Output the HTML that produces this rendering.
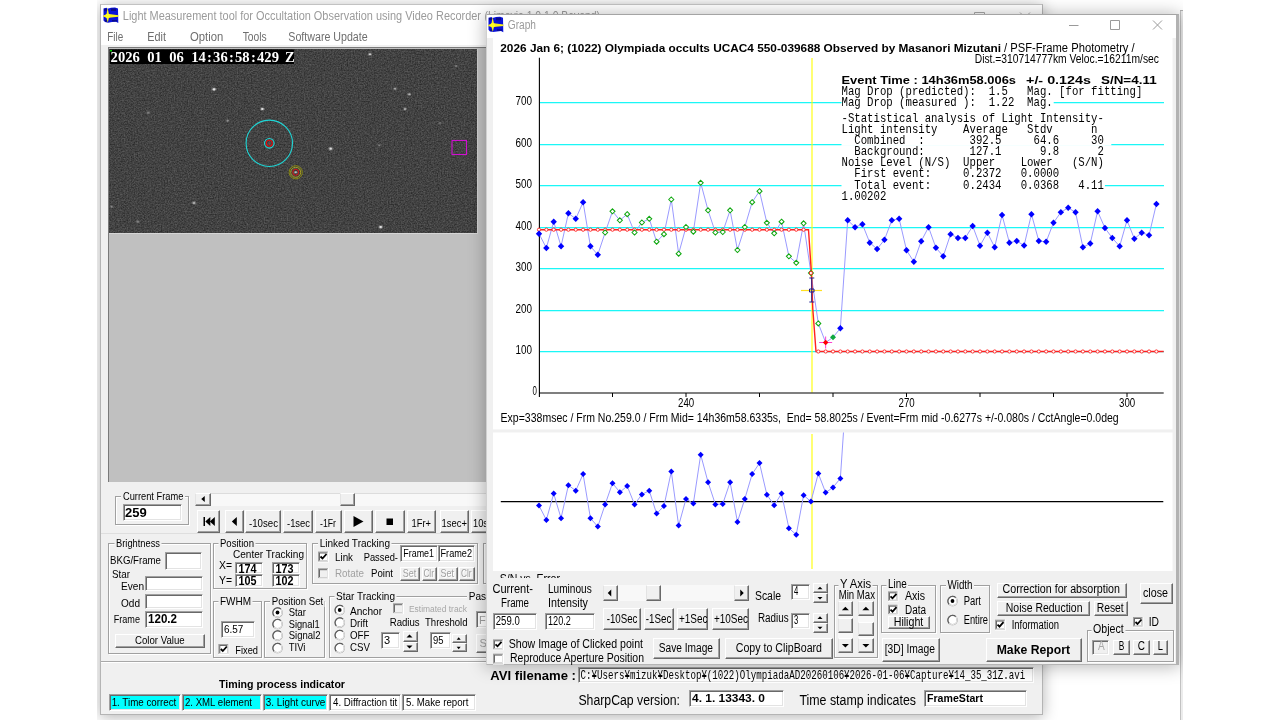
<!DOCTYPE html>
<html lang="en"><head><meta charset="utf-8"><title>Limovie - Light Measurement tool</title>
<style>
html,body{margin:0;padding:0;}
body{width:1280px;height:720px;background:#fff;overflow:hidden;position:relative;font-family:"Liberation Sans",sans-serif;}
div{position:absolute;box-sizing:border-box;}
svg.ov{position:absolute;left:0;top:0;pointer-events:none;overflow:hidden;will-change:transform;}
svg text{font-family:"Liberation Sans",sans-serif;white-space:pre;}
svg text.m{font-family:"Liberation Mono",monospace;}
svg text.se{font-family:"Liberation Serif",serif;}
svg text.g{font-family:"Liberation Sans",sans-serif;}
.win{background:#f0f0f0;border:1px solid #b4b4b4;border-top-color:#c2c2c2;box-shadow:0 2px 14px rgba(0,0,0,.30);}
.gw{border-color:#a4a4a4 #b2b2b2 #b4b4b4 #d0d0d0;border-right-width:3px;box-shadow:0 1px 16px 1px rgba(0,0,0,.28);}
.panel{background:#c0c0c0;border-left:1px solid #7a7a7a;border-top:1px solid #7a7a7a;}
.gb{border:1px solid #a0a0a0;box-shadow:1px 1px 0 #fff,inset 1px 1px 0 #fff;}
.tb{background:#fff;border:1px solid;border-color:#a0a0a0 #fff #fff #a0a0a0;box-shadow:inset 1px 1px 0 #696969,inset -1px -1px 0 #e3e3e3;}
.btn{background:#f0f0f0;border:1px solid;border-color:#fff #696969 #696969 #fff;box-shadow:inset -1px -1px 0 #a0a0a0;}
.btn1{background:#f0f0f0;border:1px solid;border-color:#fff #696969 #696969 #e3e3e3;box-shadow:inset -1px -1px 0 #a0a0a0;}
.sbt{background:#f8f8f8;}
</style></head>
<body>
<div style="left:97px;top:0;width:1086px;height:720px;overflow:hidden;background:#fff"><div style="left:-97px;top:0;width:1280px;height:720px">
<div class="" style="left:1180px;top:10px;width:3px;height:710px;background:#ececec"></div>
<div class="" style="left:1180px;top:10px;width:1px;height:710px;background:#c2c2c2"></div>
<div class="" style="left:1180px;top:10px;width:3px;height:1px;background:#b0b0b0"></div>
<!-- main window -->
<div class="win" style="left:100px;top:4px;width:943px;height:711px;"></div>
<div class="" style="left:101px;top:5px;width:941px;height:40px;background:#fff"></div>
<div class="panel" style="left:108px;top:47px;width:378px;height:435px;"></div>
<div class="" style="left:101px;top:533px;width:941px;height:1px;background:#dedede"></div>
<div class="" style="left:101px;top:661px;width:941px;height:1px;background:#a8a8a8"></div>
<div class="" style="left:101px;top:662px;width:941px;height:1px;background:#fff"></div>
<div class="gb" style="left:115.3px;top:495.5px;width:73.4px;height:29.5px;"></div>
<div class="tb" style="left:122.5px;top:504px;width:59.2px;height:17px;"></div>
<div class="sbt" style="left:195px;top:492.5px;width:325px;height:13px;border-top:1px solid #dcdcdc"></div>
<div class="btn1" style="left:195px;top:492.5px;width:16px;height:13px;"></div>
<div class="btn1" style="left:340px;top:492.5px;width:14.7px;height:13px;"></div>
<div class="btn" style="left:197px;top:510px;width:23px;height:23px;"></div>
<div class="btn" style="left:224.7px;top:510px;width:19.6px;height:23px;"></div>
<div class="btn" style="left:244.8px;top:510px;width:36.5px;height:23px;"></div>
<div class="btn" style="left:283px;top:510px;width:29.5px;height:23px;"></div>
<div class="btn" style="left:315px;top:510px;width:27px;height:23px;"></div>
<div class="btn" style="left:344px;top:510px;width:29px;height:23px;"></div>
<div class="btn" style="left:375px;top:510px;width:29.7px;height:23px;"></div>
<div class="btn" style="left:406.7px;top:510px;width:29.3px;height:23px;"></div>
<div class="btn" style="left:439.7px;top:510px;width:29px;height:23px;"></div>
<div class="btn" style="left:471px;top:510px;width:34px;height:23px;"></div>
<div class="gb" style="left:108px;top:542.5px;width:102.7px;height:111.5px;"></div>
<div class="tb" style="left:165px;top:552px;width:36.7px;height:17.7px;"></div>
<div class="tb" style="left:145px;top:576px;width:58px;height:14.5px;"></div>
<div class="tb" style="left:145px;top:594px;width:58px;height:14.5px;"></div>
<div class="tb" style="left:145px;top:611px;width:58px;height:16.5px;"></div>
<div class="btn" style="left:115px;top:633.5px;width:89.5px;height:14.5px;"></div>
<div class="gb" style="left:213px;top:542.5px;width:93.7px;height:46.5px;"></div>
<div class="tb" style="left:235px;top:561.7px;width:28px;height:12.6px;"></div>
<div class="tb" style="left:235px;top:574.3px;width:28px;height:12.7px;"></div>
<div class="tb" style="left:272px;top:561.7px;width:28px;height:12.6px;"></div>
<div class="tb" style="left:272px;top:574.3px;width:28px;height:12.7px;"></div>
<div class="gb" style="left:213px;top:601px;width:48.7px;height:56.5px;"></div>
<div class="tb" style="left:221px;top:621px;width:33.5px;height:17px;"></div>
<div class="gb" style="left:264px;top:601px;width:61px;height:56.5px;"></div>
<div class="gb" style="left:312px;top:542.5px;width:166px;height:41.5px;"></div>
<div class="tb" style="left:400px;top:545px;width:37.5px;height:17px;"></div>
<div class="tb" style="left:437.5px;top:545px;width:37px;height:17px;"></div>
<div class="btn" style="left:400px;top:566.7px;width:20px;height:14.3px;"></div>
<div class="btn" style="left:421.7px;top:566.7px;width:15px;height:14.3px;"></div>
<div class="btn" style="left:438px;top:566.7px;width:19.5px;height:14.3px;"></div>
<div class="btn" style="left:459px;top:566.7px;width:15.7px;height:14.3px;"></div>
<div class="gb" style="left:483px;top:542.5px;width:117px;height:41.5px;"></div>
<div class="gb" style="left:328.7px;top:596px;width:311.3px;height:61.5px;"></div>
<div class="tb" style="left:381px;top:632px;width:19px;height:16.7px;"></div>
<div class="btn" style="left:402.5px;top:631px;width:15px;height:10.7px;"></div>
<div class="btn" style="left:402.5px;top:641.7px;width:15px;height:10.8px;"></div>
<div class="tb" style="left:429.7px;top:632px;width:21.3px;height:16.7px;"></div>
<div class="btn" style="left:451.7px;top:634px;width:15px;height:9.3px;"></div>
<div class="btn" style="left:451.7px;top:643.3px;width:15px;height:9.2px;"></div>
<div class="tb" style="left:476px;top:611px;width:44px;height:17px;"></div>
<div class="btn" style="left:476px;top:634px;width:24px;height:18.5px;"></div>
<div class="tb" style="left:108.7px;top:694px;width:72.6px;height:17px;background:#00ffff"></div>
<div class="tb" style="left:182px;top:694px;width:80px;height:17px;background:#00ffff"></div>
<div class="tb" style="left:263.3px;top:694px;width:65px;height:17px;background:#00ffff"></div>
<div class="tb" style="left:329.3px;top:694px;width:71.7px;height:17px;"></div>
<div class="tb" style="left:402.3px;top:694px;width:73.3px;height:17px;"></div>
<div class="tb" style="left:578.4px;top:666.5px;width:455.4px;height:16.9px;"></div>
<div class="tb" style="left:688.7px;top:690px;width:95.1px;height:17.3px;"></div>
<div class="tb" style="left:923.7px;top:690px;width:103.3px;height:17.3px;"></div>
<svg class="ov" width="1280" height="720" viewBox="0 0 1280 720">
<defs><filter id="nz" x="0" y="0" width="100%" height="100%" color-interpolation-filters="sRGB"><feTurbulence type="fractalNoise" baseFrequency="0.7" numOctaves="2" seed="11" result="t0"/><feGaussianBlur in="t0" stdDeviation="0.55" result="t"/><feColorMatrix in="t" type="matrix" values="0.28 0 0 0 0.12  0.28 0 0 0 0.12  0.28 0 0 0 0.12  0 0 0 0 1"/></filter><radialGradient id="st"><stop offset="0" stop-color="#fff" stop-opacity="1"/><stop offset="0.3" stop-color="#fff" stop-opacity="0.75"/><stop offset="0.6" stop-color="#fff" stop-opacity="0.22"/><stop offset="1" stop-color="#fff" stop-opacity="0"/></radialGradient><clipPath id="vc"><rect x="109" y="49" width="368" height="184"/></clipPath></defs>
<rect x="109" y="49" width="368" height="184" fill="#404040" />
<rect x="109" y="49" width="368" height="184" filter="url(#nz)"/>
<g clip-path="url(#vc)">
<ellipse cx="214" cy="89.3" rx="3.22" ry="2.58" fill="url(#st)" opacity="1"/>
<ellipse cx="262.3" cy="109" rx="2.88" ry="2.3" fill="url(#st)" opacity="1"/>
<ellipse cx="148.3" cy="112.7" rx="2.99" ry="2.39" fill="url(#st)" opacity="0.35"/>
<ellipse cx="227.7" cy="120.7" rx="2.76" ry="2.21" fill="url(#st)" opacity="0.4"/>
<ellipse cx="370" cy="54.3" rx="2.76" ry="2.21" fill="url(#st)" opacity="0.85"/>
<ellipse cx="456" cy="66" rx="2.53" ry="2.02" fill="url(#st)" opacity="0.35"/>
<ellipse cx="395" cy="88.7" rx="2.76" ry="2.21" fill="url(#st)" opacity="0.6"/>
<ellipse cx="409.3" cy="94.3" rx="2.76" ry="2.21" fill="url(#st)" opacity="0.65"/>
<ellipse cx="405" cy="109" rx="2.76" ry="2.21" fill="url(#st)" opacity="0.65"/>
<ellipse cx="330.7" cy="148.7" rx="3.22" ry="2.58" fill="url(#st)" opacity="0.9"/>
<ellipse cx="379.3" cy="145.3" rx="2.53" ry="2.02" fill="url(#st)" opacity="0.35"/>
<ellipse cx="194" cy="203" rx="2.99" ry="2.39" fill="url(#st)" opacity="0.7"/>
<ellipse cx="137.7" cy="221.7" rx="2.76" ry="2.21" fill="url(#st)" opacity="0.4"/>
<ellipse cx="380.7" cy="227" rx="3.1" ry="2.48" fill="url(#st)" opacity="1"/>
<ellipse cx="111.7" cy="206.7" rx="2.53" ry="2.02" fill="url(#st)" opacity="0.35"/>
<ellipse cx="440" cy="123" rx="2.3" ry="1.84" fill="url(#st)" opacity="0.3"/>
<ellipse cx="269.3" cy="143.3" rx="2.3" ry="1.84" fill="url(#st)" opacity="0.18"/>
<ellipse cx="295.7" cy="172.3" rx="2.53" ry="2.02" fill="url(#st)" opacity="0.75"/>
</g>
<rect x="109" y="233" width="369" height="1" fill="#d6d6d6" />
<rect x="477" y="49" width="1" height="185" fill="#d0d0d0" />
<rect x="110" y="49.5" width="184" height="14.5" fill="#000" />
<rect x="110" y="50" width="2" height="1.5" fill="#00d000" />
<text x="114.26 121.58 128.9 136.22 143.54 150.86 158.18 165.5 172.82 180.14 187.46 194.78 202.1 209.42 216.74 224.06 231.38 238.7 246.02 253.34 260.66 267.98 275.3 282.62 289.94" y="62.4" font-size="14.6" font-weight="bold" fill="#fff" class="se" text-anchor="middle" xml:space="preserve">2026 01 06 14:36:58:429 Z</text>
<circle cx="269.3" cy="143.3" r="23.2" fill="none" stroke="#1fd6d6" stroke-width="1.1"/>
<circle cx="269.3" cy="143.3" r="4.8" fill="none" stroke="#1fd6d6" stroke-width="1.1"/>
<circle cx="269.3" cy="143.3" r="3" fill="none" stroke="#e01010" stroke-width="1.1"/>
<circle cx="295.7" cy="172.3" r="6.6" fill="none" stroke="#8a8a10" stroke-width="1"/>
<circle cx="295.7" cy="172.3" r="5" fill="none" stroke="#a8a020" stroke-width="1"/>
<circle cx="295.7" cy="172.3" r="3" fill="none" stroke="#e01010" stroke-width="1"/>
<rect x="452" y="140.5" width="14.5" height="14" fill="none" stroke="#d010d0" stroke-width="1.1"/>
</svg>
<svg class="ov " width="1280" height="720" viewBox="0 0 1280 720">
<g transform="translate(103 7.5)"><path d="M0.5 1 L3.5 0.3 L4.5 1.2 L8 0.3 L12 0 L15 1 L15.3 15.5 L13 14.2 L9 14.6 L5 15.2 L2 14.6 L0.5 13 Z" fill="#0a12d8"/><path d="M1 1.2 h3 v2 h-3z M8 1 h5 v2.4 h-5z M2 12.6 h3 v1.6 h-3z M9 12.4 h5 v1.6 h-5z" fill="#0a0a8a"/><path d="M4.6 0.2 L5.9 6.5 L15.4 7.8 L15.4 9.3 L5.9 10.3 L4.8 15.3 L3.5 10.3 L0.2 9.1 L0.2 8.1 L3.5 6.7 Z" fill="#f8f11a"/><circle cx="4.7" cy="8.5" r="2.3" fill="#ffff22"/></g>
<text x="122.8" y="19.6" font-size="12" fill="#9b9b9b" textLength="358.2" lengthAdjust="spacingAndGlyphs">Light Measurement tool for Occultation Observation using Video Recorder</text>
<text x="484.5" y="19.6" font-size="12" fill="#9b9b9b" textLength="115.5" lengthAdjust="spacingAndGlyphs">(Limovie 1.0.1.0 Beyond)</text>
<path d="M928 17.5 h10 M974.5 12.5 h10 v10 h-10z M1020 12.5 l10 10 m0 -10 l-10 10" fill="none" stroke="#a8a8a8" stroke-width="1"/>
<text x="107.3" y="40.9" font-size="12" fill="#6e6e6e" textLength="16" lengthAdjust="spacingAndGlyphs">File</text>
<text x="147.3" y="40.9" font-size="12" fill="#6e6e6e" textLength="18.7" lengthAdjust="spacingAndGlyphs">Edit</text>
<text x="190" y="40.9" font-size="12" fill="#6e6e6e" textLength="33.3" lengthAdjust="spacingAndGlyphs">Option</text>
<text x="242.7" y="40.9" font-size="12" fill="#6e6e6e" textLength="24" lengthAdjust="spacingAndGlyphs">Tools</text>
<text x="288.3" y="40.9" font-size="12" fill="#6e6e6e" textLength="79.4" lengthAdjust="spacingAndGlyphs">Software Update</text>
<rect x="121" y="490" width="64" height="11" fill="#f0f0f0" />
<text x="123" y="499.7" font-size="11" textLength="60.3" lengthAdjust="spacingAndGlyphs">Current Frame</text>
<text x="125" y="516.7" font-size="13" font-weight="bold" textLength="21.7" lengthAdjust="spacingAndGlyphs">259</text>
<polygon points="201.25,499 204.75,496 204.75,502" fill="#000"/>
<rect x="203.5" y="517" width="1.5" height="9" fill="#000" />
<polygon points="205.3,521.5 210.3,517 210.3,526" fill="#000"/>
<polygon points="209.8,521.5 214.8,517 214.8,526" fill="#000"/>
<polygon points="231.8,521.5 236.8,517 236.8,526" fill="#000"/>
<text x="249" y="526.5" font-size="11" textLength="29" lengthAdjust="spacingAndGlyphs">-10sec</text>
<text x="287" y="526.5" font-size="11" textLength="23" lengthAdjust="spacingAndGlyphs">-1sec</text>
<text x="320" y="526.5" font-size="11" textLength="16" lengthAdjust="spacingAndGlyphs">-1Fr</text>
<polygon points="363.5,521.5 353.5,516 353.5,527" fill="#000"/>
<rect x="386.5" y="518.5" width="6.5" height="6.5" fill="#000" />
<text x="411.5" y="526.5" font-size="11" textLength="19.5" lengthAdjust="spacingAndGlyphs">1Fr+</text>
<text x="441.5" y="526.5" font-size="11" textLength="25.5" lengthAdjust="spacingAndGlyphs">1sec+</text>
<text x="473" y="526.5" font-size="11" textLength="30" lengthAdjust="spacingAndGlyphs">10sec+</text>
<rect x="114.5" y="538" width="47" height="10" fill="#f0f0f0" />
<text x="116" y="546.7" font-size="11" textLength="44" lengthAdjust="spacingAndGlyphs">Brightness</text>
<text x="110" y="564.2" font-size="11" textLength="51" lengthAdjust="spacingAndGlyphs">BKG/Frame</text>
<text x="112" y="578.3" font-size="11" textLength="18" lengthAdjust="spacingAndGlyphs">Star</text>
<text x="121" y="589.7" font-size="11" textLength="23" lengthAdjust="spacingAndGlyphs">Even</text>
<text x="121" y="606.7" font-size="11" textLength="19" lengthAdjust="spacingAndGlyphs">Odd</text>
<text x="113.7" y="623.3" font-size="11" textLength="26.3" lengthAdjust="spacingAndGlyphs">Frame</text>
<text x="148" y="623.3" font-size="12" font-weight="bold" textLength="29" lengthAdjust="spacingAndGlyphs">120.2</text>
<text x="135" y="643.8" font-size="11" textLength="49.7" lengthAdjust="spacingAndGlyphs">Color Value</text>
<rect x="218.5" y="538" width="37" height="10" fill="#f0f0f0" />
<text x="220" y="546.7" font-size="11" textLength="34" lengthAdjust="spacingAndGlyphs">Position</text>
<text x="233" y="558.3" font-size="11" textLength="71" lengthAdjust="spacingAndGlyphs">Center Tracking</text>
<text x="219" y="568.7" font-size="11" textLength="13" lengthAdjust="spacingAndGlyphs">X=</text>
<text x="219" y="583.7" font-size="11" textLength="13" lengthAdjust="spacingAndGlyphs">Y=</text>
<text x="238.5" y="572.6" font-size="12" font-weight="bold" textLength="18" lengthAdjust="spacingAndGlyphs">174</text>
<text x="238.5" y="585.3" font-size="12" font-weight="bold" textLength="18" lengthAdjust="spacingAndGlyphs">105</text>
<text x="275.5" y="572.6" font-size="12" font-weight="bold" textLength="18" lengthAdjust="spacingAndGlyphs">173</text>
<text x="275.5" y="585.3" font-size="12" font-weight="bold" textLength="18" lengthAdjust="spacingAndGlyphs">102</text>
<rect x="218.5" y="596" width="34" height="11" fill="#f0f0f0" />
<text x="220" y="605.3" font-size="11" textLength="31" lengthAdjust="spacingAndGlyphs">FWHM</text>
<text x="224" y="633.3" font-size="11" textLength="19.3" lengthAdjust="spacingAndGlyphs">6.57</text>
<rect x="218.3" y="644" width="11" height="11" fill="#ffffff" />
<rect x="218.3" y="644" width="10" height="10" fill="#a0a0a0" />
<rect x="219.3" y="645" width="9" height="9" fill="#e3e3e3" />
<rect x="219.3" y="645" width="8" height="8" fill="#696969" />
<rect x="220.3" y="646" width="7" height="7" fill="#ffffff" />
<path d="M220.8 649 l2 2 l4 -4.5" fill="none" stroke="#000" stroke-width="1.8"/>
<text x="235.3" y="653.7" font-size="11" textLength="22.7" lengthAdjust="spacingAndGlyphs">Fixed</text>
<rect x="270" y="596" width="54.5" height="11" fill="#f0f0f0" />
<text x="271.7" y="605.3" font-size="11" textLength="51.6" lengthAdjust="spacingAndGlyphs">Position Set</text>
<circle cx="277.5" cy="612.5" r="4.7" fill="#fff" stroke="#8a8a8a" stroke-width="1.2"/>
<path d="M274.18 615.82 A4.7 4.7 0 0 1 280.82 609.18" fill="none" stroke="#5a5a5a" stroke-width="1.2"/>
<path d="M280.82 609.18 A4.7 4.7 0 0 1 274.18 615.82" fill="none" stroke="#e8e8e8" stroke-width="1.2"/>
<circle cx="277.5" cy="612.5" r="1.9" fill="#000"/>
<text x="288.7" y="615.8" font-size="11" textLength="17.3" lengthAdjust="spacingAndGlyphs">Star</text>
<circle cx="277.5" cy="624" r="4.7" fill="#fff" stroke="#8a8a8a" stroke-width="1.2"/>
<path d="M274.18 627.32 A4.7 4.7 0 0 1 280.82 620.68" fill="none" stroke="#5a5a5a" stroke-width="1.2"/>
<path d="M280.82 620.68 A4.7 4.7 0 0 1 274.18 627.32" fill="none" stroke="#e8e8e8" stroke-width="1.2"/>
<text x="288.7" y="627.5" font-size="11" textLength="31" lengthAdjust="spacingAndGlyphs">Signal1</text>
<circle cx="277.5" cy="635.5" r="4.7" fill="#fff" stroke="#8a8a8a" stroke-width="1.2"/>
<path d="M274.18 638.82 A4.7 4.7 0 0 1 280.82 632.18" fill="none" stroke="#5a5a5a" stroke-width="1.2"/>
<path d="M280.82 632.18 A4.7 4.7 0 0 1 274.18 638.82" fill="none" stroke="#e8e8e8" stroke-width="1.2"/>
<text x="288.7" y="639" font-size="11" textLength="31.8" lengthAdjust="spacingAndGlyphs">Signal2</text>
<circle cx="277.5" cy="648" r="4.7" fill="#fff" stroke="#8a8a8a" stroke-width="1.2"/>
<path d="M274.18 651.32 A4.7 4.7 0 0 1 280.82 644.68" fill="none" stroke="#5a5a5a" stroke-width="1.2"/>
<path d="M280.82 644.68 A4.7 4.7 0 0 1 274.18 651.32" fill="none" stroke="#e8e8e8" stroke-width="1.2"/>
<text x="288.7" y="651.3" font-size="11" textLength="16.8" lengthAdjust="spacingAndGlyphs">TIVi</text>
<rect x="318" y="538" width="73.5" height="10" fill="#f0f0f0" />
<text x="319.7" y="546.7" font-size="11" textLength="70.3" lengthAdjust="spacingAndGlyphs">Linked Tracking</text>
<rect x="318" y="551.5" width="11" height="11" fill="#ffffff" />
<rect x="318" y="551.5" width="10" height="10" fill="#a0a0a0" />
<rect x="319" y="552.5" width="9" height="9" fill="#e3e3e3" />
<rect x="319" y="552.5" width="8" height="8" fill="#696969" />
<rect x="320" y="553.5" width="7" height="7" fill="#ffffff" />
<path d="M320.5 556.5 l2 2 l4 -4.5" fill="none" stroke="#000" stroke-width="1.8"/>
<text x="335" y="560.8" font-size="11" textLength="18" lengthAdjust="spacingAndGlyphs">Link</text>
<text x="363.7" y="560.8" font-size="11" textLength="34.3" lengthAdjust="spacingAndGlyphs">Passed-</text>
<text x="403.3" y="557" font-size="11" textLength="30.7" lengthAdjust="spacingAndGlyphs">Frame1</text>
<text x="440.5" y="557" font-size="11" textLength="31.5" lengthAdjust="spacingAndGlyphs">Frame2</text>
<rect x="318" y="568.2" width="11" height="11" fill="#ffffff" />
<rect x="318" y="568.2" width="10" height="10" fill="#a0a0a0" />
<rect x="319" y="569.2" width="9" height="9" fill="#e3e3e3" />
<rect x="319" y="569.2" width="8" height="8" fill="#696969" />
<rect x="320" y="570.2" width="7" height="7" fill="#f0f0f0" />
<text x="335" y="576.7" font-size="11" fill="#a0a0a0" textLength="29" lengthAdjust="spacingAndGlyphs">Rotate</text>
<text x="371" y="576.7" font-size="11" textLength="22" lengthAdjust="spacingAndGlyphs">Point</text>
<text x="403.75" y="577.7" font-size="11" fill="#fff" textLength="13.5" lengthAdjust="spacingAndGlyphs">Set</text>
<text x="402.75" y="576.7" font-size="11" fill="#a0a0a0" textLength="13.5" lengthAdjust="spacingAndGlyphs">Set</text>
<text x="424.45" y="577.7" font-size="11" fill="#fff" textLength="10.5" lengthAdjust="spacingAndGlyphs">Clr</text>
<text x="423.45" y="576.7" font-size="11" fill="#a0a0a0" textLength="10.5" lengthAdjust="spacingAndGlyphs">Clr</text>
<text x="441.5" y="577.7" font-size="11" fill="#fff" textLength="13.5" lengthAdjust="spacingAndGlyphs">Set</text>
<text x="440.5" y="576.7" font-size="11" fill="#a0a0a0" textLength="13.5" lengthAdjust="spacingAndGlyphs">Set</text>
<text x="462.1" y="577.7" font-size="11" fill="#fff" textLength="10.5" lengthAdjust="spacingAndGlyphs">Clr</text>
<text x="461.1" y="576.7" font-size="11" fill="#a0a0a0" textLength="10.5" lengthAdjust="spacingAndGlyphs">Clr</text>
<rect x="334.5" y="591" width="62" height="11" fill="#f0f0f0" />
<text x="336" y="600.3" font-size="11" textLength="59" lengthAdjust="spacingAndGlyphs">Star Tracking</text>
<rect x="467" y="591" width="73" height="11" fill="#f0f0f0" />
<text x="468.7" y="600.3" font-size="11" textLength="59.3" lengthAdjust="spacingAndGlyphs">Passed Point</text>
<circle cx="339.7" cy="610" r="4.7" fill="#fff" stroke="#8a8a8a" stroke-width="1.2"/>
<path d="M336.38 613.32 A4.7 4.7 0 0 1 343.02 606.68" fill="none" stroke="#5a5a5a" stroke-width="1.2"/>
<path d="M343.02 606.68 A4.7 4.7 0 0 1 336.38 613.32" fill="none" stroke="#e8e8e8" stroke-width="1.2"/>
<circle cx="339.7" cy="610" r="1.9" fill="#000"/>
<text x="350" y="615" font-size="11" textLength="32" lengthAdjust="spacingAndGlyphs">Anchor</text>
<circle cx="339.7" cy="622.5" r="4.7" fill="#fff" stroke="#8a8a8a" stroke-width="1.2"/>
<path d="M336.38 625.82 A4.7 4.7 0 0 1 343.02 619.18" fill="none" stroke="#5a5a5a" stroke-width="1.2"/>
<path d="M343.02 619.18 A4.7 4.7 0 0 1 336.38 625.82" fill="none" stroke="#e8e8e8" stroke-width="1.2"/>
<text x="350" y="626.7" font-size="11" textLength="18" lengthAdjust="spacingAndGlyphs">Drift</text>
<circle cx="339.7" cy="635" r="4.7" fill="#fff" stroke="#8a8a8a" stroke-width="1.2"/>
<path d="M336.38 638.32 A4.7 4.7 0 0 1 343.02 631.68" fill="none" stroke="#5a5a5a" stroke-width="1.2"/>
<path d="M343.02 631.68 A4.7 4.7 0 0 1 336.38 638.32" fill="none" stroke="#e8e8e8" stroke-width="1.2"/>
<text x="350" y="638.7" font-size="11" textLength="19.5" lengthAdjust="spacingAndGlyphs">OFF</text>
<circle cx="339.7" cy="648" r="4.7" fill="#fff" stroke="#8a8a8a" stroke-width="1.2"/>
<path d="M336.38 651.32 A4.7 4.7 0 0 1 343.02 644.68" fill="none" stroke="#5a5a5a" stroke-width="1.2"/>
<path d="M343.02 644.68 A4.7 4.7 0 0 1 336.38 651.32" fill="none" stroke="#e8e8e8" stroke-width="1.2"/>
<text x="350" y="651.3" font-size="11" textLength="20" lengthAdjust="spacingAndGlyphs">CSV</text>
<rect x="393" y="603.2" width="11" height="11" fill="#ffffff" />
<rect x="393" y="603.2" width="10" height="10" fill="#a0a0a0" />
<rect x="394" y="604.2" width="9" height="9" fill="#e3e3e3" />
<rect x="394" y="604.2" width="8" height="8" fill="#696969" />
<rect x="395" y="605.2" width="7" height="7" fill="#f0f0f0" />
<text x="409" y="611.7" font-size="8.5" fill="#a6a6a6" textLength="58" lengthAdjust="spacingAndGlyphs">Estimated track</text>
<text x="389.7" y="625.8" font-size="11" textLength="30" lengthAdjust="spacingAndGlyphs">Radius</text>
<text x="425" y="625.8" font-size="11" textLength="42.5" lengthAdjust="spacingAndGlyphs">Threshold</text>
<text x="384" y="644" font-size="11">3</text>
<polygon points="409.5,634.5 406.5,637.5 412.5,637.5" fill="#000"/>
<polygon points="409.5,648.5 406.5,645.5 412.5,645.5" fill="#000"/>
<text x="433" y="644" font-size="11" textLength="10.5" lengthAdjust="spacingAndGlyphs">95</text>
<polygon points="458.7,637.3 456.7,639.7 460.7,639.7" fill="#000"/>
<polygon points="458.7,649.2 456.7,646.8 460.7,646.8" fill="#000"/>
<text x="479" y="623.5" font-size="11" fill="#a0a0a0">Frame1</text>
<text x="479.5" y="647" font-size="11" fill="#a0a0a0">Set</text>
<text x="219" y="688.4" font-size="11.5" font-weight="bold" textLength="126" lengthAdjust="spacingAndGlyphs">Timing process indicator</text>
<text x="111.7" y="705.8" font-size="11" textLength="64.6" lengthAdjust="spacingAndGlyphs">1. Time correct</text>
<text x="185" y="705.8" font-size="11" textLength="67" lengthAdjust="spacingAndGlyphs">2. XML element</text>
<text x="265.8" y="705.8" font-size="11" textLength="59.6" lengthAdjust="spacingAndGlyphs">3. Light curve</text>
<text x="333" y="705.8" font-size="11" textLength="64.3" lengthAdjust="spacingAndGlyphs">4. Diffraction tit</text>
<text x="406" y="705.8" font-size="11" textLength="62.5" lengthAdjust="spacingAndGlyphs">5. Make report</text>
<text x="490.3" y="679.8" font-size="13.5" font-weight="bold" textLength="85.7" lengthAdjust="spacingAndGlyphs">AVI filename :</text>
<text x="580.6" y="679.3" font-size="13" class="m" textLength="444.7" lengthAdjust="spacingAndGlyphs">C:¥Users¥mizuk¥Desktop¥(1022)OlympiadaAD20260106¥2026-01-06¥Capture¥14_35_31Z.avi</text>
<text x="578.4" y="704.8" font-size="14" textLength="101.6" lengthAdjust="spacingAndGlyphs">SharpCap version:</text>
<text x="692" y="701.6" font-size="11" font-weight="bold" textLength="73" lengthAdjust="spacingAndGlyphs">4. 1. 13343. 0</text>
<text x="799.4" y="704.8" font-size="14" textLength="116.6" lengthAdjust="spacingAndGlyphs">Time stamp indicates</text>
<text x="927" y="701.6" font-size="11" font-weight="bold" textLength="56" lengthAdjust="spacingAndGlyphs">FrameStart</text>
</svg>
<!-- graph window -->
<div class="win gw" style="left:486px;top:14px;width:693px;height:651px;"></div>
<div class="" style="left:487px;top:15px;width:689px;height:22.5px;background:#fff"></div>
<svg class="ov" width="1280" height="720" viewBox="0 0 1280 720">
<defs><clipPath id="p2"><rect x="493" y="432.5" width="679.5" height="138.5"/></clipPath></defs>
<rect x="493" y="38" width="679.5" height="391.4" fill="#fff" />
<rect x="493" y="432.5" width="679.5" height="138.5" fill="#fff" />
<rect x="540" y="351" width="624" height="1" fill="#1cf6f6" />
<rect x="540" y="352" width="624" height="1" fill="#c0ffff" />
<rect x="540" y="310" width="624" height="1" fill="#1cf6f6" />
<rect x="540" y="311" width="624" height="1" fill="#c0ffff" />
<rect x="540" y="268" width="624" height="1" fill="#1cf6f6" />
<rect x="540" y="269" width="624" height="1" fill="#c0ffff" />
<rect x="540" y="227" width="624" height="1" fill="#1cf6f6" />
<rect x="540" y="228" width="624" height="1" fill="#c0ffff" />
<rect x="540" y="185" width="624" height="1" fill="#1cf6f6" />
<rect x="540" y="186" width="624" height="1" fill="#c0ffff" />
<rect x="540" y="144" width="624" height="1" fill="#1cf6f6" />
<rect x="540" y="145" width="624" height="1" fill="#c0ffff" />
<rect x="540" y="102" width="624" height="1" fill="#1cf6f6" />
<rect x="540" y="103" width="624" height="1" fill="#c0ffff" />
<line x1="812" y1="58" x2="812" y2="392.5" stroke="#ffff00" stroke-width="1.1"/>
<path d="M539.4 57.8 V397 M539 393 H1163.7" fill="none" stroke="#000" stroke-width="1.1"/>
<line x1="612.5" y1="393" x2="612.5" y2="397" stroke="#000" stroke-width="1"/>
<line x1="686" y1="393" x2="686" y2="397" stroke="#000" stroke-width="1"/>
<line x1="759.5" y1="393" x2="759.5" y2="397" stroke="#000" stroke-width="1"/>
<line x1="833" y1="393" x2="833" y2="397" stroke="#000" stroke-width="1"/>
<line x1="906.5" y1="393" x2="906.5" y2="397" stroke="#000" stroke-width="1"/>
<line x1="980" y1="393" x2="980" y2="397" stroke="#000" stroke-width="1"/>
<line x1="1053.5" y1="393" x2="1053.5" y2="397" stroke="#000" stroke-width="1"/>
<line x1="1127" y1="393" x2="1127" y2="397" stroke="#000" stroke-width="1"/>
<text x="515.5" y="354.1" font-size="12" class="g" textLength="16.5" lengthAdjust="spacingAndGlyphs">100</text>
<text x="515.5" y="313.1" font-size="12" class="g" textLength="16.5" lengthAdjust="spacingAndGlyphs">200</text>
<text x="515.5" y="271.1" font-size="12" class="g" textLength="16.5" lengthAdjust="spacingAndGlyphs">300</text>
<text x="515.5" y="230.1" font-size="12" class="g" textLength="16.5" lengthAdjust="spacingAndGlyphs">400</text>
<text x="515.5" y="188.1" font-size="12" class="g" textLength="16.5" lengthAdjust="spacingAndGlyphs">500</text>
<text x="515.5" y="147.1" font-size="12" class="g" textLength="16.5" lengthAdjust="spacingAndGlyphs">600</text>
<text x="515.5" y="105.1" font-size="12" class="g" textLength="16.5" lengthAdjust="spacingAndGlyphs">700</text>
<text x="532.6" y="395.2" font-size="12" class="g" textLength="4.4" lengthAdjust="spacingAndGlyphs">0</text>
<text x="678" y="407.2" font-size="12" class="g" textLength="16.2" lengthAdjust="spacingAndGlyphs">240</text>
<text x="898.5" y="407.2" font-size="12" class="g" textLength="16.2" lengthAdjust="spacingAndGlyphs">270</text>
<text x="1119" y="407.2" font-size="12" class="g" textLength="16.2" lengthAdjust="spacingAndGlyphs">300</text>
<polyline points="539,233.7 546.35,248 553.7,221.7 561.05,246.3 568.4,213.3 575.75,218.8 583.1,202.2 590.45,246.3 597.8,254.7 605.15,232.5 612.5,211.3 619.85,220.3 627.2,214.2 634.55,232.5 641.9,222.5 649.25,218.8 656.6,241.7 663.95,234.2 671.3,199.5 678.65,253.7 686,227 693.35,231.7 700.7,182.8 708.05,210.3 715.4,232.5 722.75,232 730.1,210.3 737.45,250 744.8,227 752.15,202.2 759.5,191.2 766.85,222.8 774.2,233.3 781.55,221.7 788.9,256.3 796.25,262.8 803.6,223.3 810.95,273 818.3,323.4 825.65,342.5 833,337.3 840.35,328.3 847.7,220.3 855.05,227.2 862.4,224.2 869.75,242.7 877.1,249 884.45,239.8 891.8,220.3 899.15,218.8 906.5,250.2 913.85,261.8 921.2,241.2 928.55,227.2 935.9,247.8 943.25,256.3 950.6,234.2 957.95,238 965.3,238 972.65,226 980,245.7 987.35,232.7 994.7,247.2 1002.05,215 1009.4,242.7 1016.75,241 1024.1,245.5 1031.45,214.2 1038.8,241 1046.15,241.8 1053.5,222.7 1060.85,212.3 1068.2,207.8 1075.55,212.3 1082.9,247.2 1090.25,243.5 1097.6,211.3 1104.95,228 1112.3,238 1119.65,246.3 1127,220.3 1134.35,238.7 1141.7,232.7 1149.05,235.2 1156.4,204" fill="none" stroke="#9a9aff" stroke-width="1"/>
<path d="M539.4 229.7 H808.5 L811.4 273 L812.8 309 L816 351.5 H1163.7" fill="none" stroke="#ff2020" stroke-width="1.4"/>
<circle cx="539" cy="229.7" r="1.6" fill="#fff" stroke="#ff2020" stroke-width="0.9"/>
<circle cx="546.35" cy="229.7" r="1.6" fill="#fff" stroke="#ff2020" stroke-width="0.9"/>
<circle cx="553.7" cy="229.7" r="1.6" fill="#fff" stroke="#ff2020" stroke-width="0.9"/>
<circle cx="561.05" cy="229.7" r="1.6" fill="#fff" stroke="#ff2020" stroke-width="0.9"/>
<circle cx="568.4" cy="229.7" r="1.6" fill="#fff" stroke="#ff2020" stroke-width="0.9"/>
<circle cx="575.75" cy="229.7" r="1.6" fill="#fff" stroke="#ff2020" stroke-width="0.9"/>
<circle cx="583.1" cy="229.7" r="1.6" fill="#fff" stroke="#ff2020" stroke-width="0.9"/>
<circle cx="590.45" cy="229.7" r="1.6" fill="#fff" stroke="#ff2020" stroke-width="0.9"/>
<circle cx="597.8" cy="229.7" r="1.6" fill="#fff" stroke="#ff2020" stroke-width="0.9"/>
<circle cx="605.15" cy="229.7" r="1.6" fill="#fff" stroke="#ff2020" stroke-width="0.9"/>
<circle cx="612.5" cy="229.7" r="1.6" fill="#fff" stroke="#ff2020" stroke-width="0.9"/>
<circle cx="619.85" cy="229.7" r="1.6" fill="#fff" stroke="#ff2020" stroke-width="0.9"/>
<circle cx="627.2" cy="229.7" r="1.6" fill="#fff" stroke="#ff2020" stroke-width="0.9"/>
<circle cx="634.55" cy="229.7" r="1.6" fill="#fff" stroke="#ff2020" stroke-width="0.9"/>
<circle cx="641.9" cy="229.7" r="1.6" fill="#fff" stroke="#ff2020" stroke-width="0.9"/>
<circle cx="649.25" cy="229.7" r="1.6" fill="#fff" stroke="#ff2020" stroke-width="0.9"/>
<circle cx="656.6" cy="229.7" r="1.6" fill="#fff" stroke="#ff2020" stroke-width="0.9"/>
<circle cx="663.95" cy="229.7" r="1.6" fill="#fff" stroke="#ff2020" stroke-width="0.9"/>
<circle cx="671.3" cy="229.7" r="1.6" fill="#fff" stroke="#ff2020" stroke-width="0.9"/>
<circle cx="678.65" cy="229.7" r="1.6" fill="#fff" stroke="#ff2020" stroke-width="0.9"/>
<circle cx="686" cy="229.7" r="1.6" fill="#fff" stroke="#ff2020" stroke-width="0.9"/>
<circle cx="693.35" cy="229.7" r="1.6" fill="#fff" stroke="#ff2020" stroke-width="0.9"/>
<circle cx="700.7" cy="229.7" r="1.6" fill="#fff" stroke="#ff2020" stroke-width="0.9"/>
<circle cx="708.05" cy="229.7" r="1.6" fill="#fff" stroke="#ff2020" stroke-width="0.9"/>
<circle cx="715.4" cy="229.7" r="1.6" fill="#fff" stroke="#ff2020" stroke-width="0.9"/>
<circle cx="722.75" cy="229.7" r="1.6" fill="#fff" stroke="#ff2020" stroke-width="0.9"/>
<circle cx="730.1" cy="229.7" r="1.6" fill="#fff" stroke="#ff2020" stroke-width="0.9"/>
<circle cx="737.45" cy="229.7" r="1.6" fill="#fff" stroke="#ff2020" stroke-width="0.9"/>
<circle cx="744.8" cy="229.7" r="1.6" fill="#fff" stroke="#ff2020" stroke-width="0.9"/>
<circle cx="752.15" cy="229.7" r="1.6" fill="#fff" stroke="#ff2020" stroke-width="0.9"/>
<circle cx="759.5" cy="229.7" r="1.6" fill="#fff" stroke="#ff2020" stroke-width="0.9"/>
<circle cx="766.85" cy="229.7" r="1.6" fill="#fff" stroke="#ff2020" stroke-width="0.9"/>
<circle cx="774.2" cy="229.7" r="1.6" fill="#fff" stroke="#ff2020" stroke-width="0.9"/>
<circle cx="781.55" cy="229.7" r="1.6" fill="#fff" stroke="#ff2020" stroke-width="0.9"/>
<circle cx="788.9" cy="229.7" r="1.6" fill="#fff" stroke="#ff2020" stroke-width="0.9"/>
<circle cx="796.25" cy="229.7" r="1.6" fill="#fff" stroke="#ff2020" stroke-width="0.9"/>
<circle cx="803.6" cy="229.7" r="1.6" fill="#fff" stroke="#ff2020" stroke-width="0.9"/>
<circle cx="810.95" cy="273" r="1.6" fill="#fff" stroke="#ff2020" stroke-width="0.9"/>
<circle cx="818.3" cy="351.5" r="1.6" fill="#fff" stroke="#ff2020" stroke-width="0.9"/>
<circle cx="825.65" cy="351.5" r="1.6" fill="#fff" stroke="#ff2020" stroke-width="0.9"/>
<circle cx="833" cy="351.5" r="1.6" fill="#fff" stroke="#ff2020" stroke-width="0.9"/>
<circle cx="840.35" cy="351.5" r="1.6" fill="#fff" stroke="#ff2020" stroke-width="0.9"/>
<circle cx="847.7" cy="351.5" r="1.6" fill="#fff" stroke="#ff2020" stroke-width="0.9"/>
<circle cx="855.05" cy="351.5" r="1.6" fill="#fff" stroke="#ff2020" stroke-width="0.9"/>
<circle cx="862.4" cy="351.5" r="1.6" fill="#fff" stroke="#ff2020" stroke-width="0.9"/>
<circle cx="869.75" cy="351.5" r="1.6" fill="#fff" stroke="#ff2020" stroke-width="0.9"/>
<circle cx="877.1" cy="351.5" r="1.6" fill="#fff" stroke="#ff2020" stroke-width="0.9"/>
<circle cx="884.45" cy="351.5" r="1.6" fill="#fff" stroke="#ff2020" stroke-width="0.9"/>
<circle cx="891.8" cy="351.5" r="1.6" fill="#fff" stroke="#ff2020" stroke-width="0.9"/>
<circle cx="899.15" cy="351.5" r="1.6" fill="#fff" stroke="#ff2020" stroke-width="0.9"/>
<circle cx="906.5" cy="351.5" r="1.6" fill="#fff" stroke="#ff2020" stroke-width="0.9"/>
<circle cx="913.85" cy="351.5" r="1.6" fill="#fff" stroke="#ff2020" stroke-width="0.9"/>
<circle cx="921.2" cy="351.5" r="1.6" fill="#fff" stroke="#ff2020" stroke-width="0.9"/>
<circle cx="928.55" cy="351.5" r="1.6" fill="#fff" stroke="#ff2020" stroke-width="0.9"/>
<circle cx="935.9" cy="351.5" r="1.6" fill="#fff" stroke="#ff2020" stroke-width="0.9"/>
<circle cx="943.25" cy="351.5" r="1.6" fill="#fff" stroke="#ff2020" stroke-width="0.9"/>
<circle cx="950.6" cy="351.5" r="1.6" fill="#fff" stroke="#ff2020" stroke-width="0.9"/>
<circle cx="957.95" cy="351.5" r="1.6" fill="#fff" stroke="#ff2020" stroke-width="0.9"/>
<circle cx="965.3" cy="351.5" r="1.6" fill="#fff" stroke="#ff2020" stroke-width="0.9"/>
<circle cx="972.65" cy="351.5" r="1.6" fill="#fff" stroke="#ff2020" stroke-width="0.9"/>
<circle cx="980" cy="351.5" r="1.6" fill="#fff" stroke="#ff2020" stroke-width="0.9"/>
<circle cx="987.35" cy="351.5" r="1.6" fill="#fff" stroke="#ff2020" stroke-width="0.9"/>
<circle cx="994.7" cy="351.5" r="1.6" fill="#fff" stroke="#ff2020" stroke-width="0.9"/>
<circle cx="1002.05" cy="351.5" r="1.6" fill="#fff" stroke="#ff2020" stroke-width="0.9"/>
<circle cx="1009.4" cy="351.5" r="1.6" fill="#fff" stroke="#ff2020" stroke-width="0.9"/>
<circle cx="1016.75" cy="351.5" r="1.6" fill="#fff" stroke="#ff2020" stroke-width="0.9"/>
<circle cx="1024.1" cy="351.5" r="1.6" fill="#fff" stroke="#ff2020" stroke-width="0.9"/>
<circle cx="1031.45" cy="351.5" r="1.6" fill="#fff" stroke="#ff2020" stroke-width="0.9"/>
<circle cx="1038.8" cy="351.5" r="1.6" fill="#fff" stroke="#ff2020" stroke-width="0.9"/>
<circle cx="1046.15" cy="351.5" r="1.6" fill="#fff" stroke="#ff2020" stroke-width="0.9"/>
<circle cx="1053.5" cy="351.5" r="1.6" fill="#fff" stroke="#ff2020" stroke-width="0.9"/>
<circle cx="1060.85" cy="351.5" r="1.6" fill="#fff" stroke="#ff2020" stroke-width="0.9"/>
<circle cx="1068.2" cy="351.5" r="1.6" fill="#fff" stroke="#ff2020" stroke-width="0.9"/>
<circle cx="1075.55" cy="351.5" r="1.6" fill="#fff" stroke="#ff2020" stroke-width="0.9"/>
<circle cx="1082.9" cy="351.5" r="1.6" fill="#fff" stroke="#ff2020" stroke-width="0.9"/>
<circle cx="1090.25" cy="351.5" r="1.6" fill="#fff" stroke="#ff2020" stroke-width="0.9"/>
<circle cx="1097.6" cy="351.5" r="1.6" fill="#fff" stroke="#ff2020" stroke-width="0.9"/>
<circle cx="1104.95" cy="351.5" r="1.6" fill="#fff" stroke="#ff2020" stroke-width="0.9"/>
<circle cx="1112.3" cy="351.5" r="1.6" fill="#fff" stroke="#ff2020" stroke-width="0.9"/>
<circle cx="1119.65" cy="351.5" r="1.6" fill="#fff" stroke="#ff2020" stroke-width="0.9"/>
<circle cx="1127" cy="351.5" r="1.6" fill="#fff" stroke="#ff2020" stroke-width="0.9"/>
<circle cx="1134.35" cy="351.5" r="1.6" fill="#fff" stroke="#ff2020" stroke-width="0.9"/>
<circle cx="1141.7" cy="351.5" r="1.6" fill="#fff" stroke="#ff2020" stroke-width="0.9"/>
<circle cx="1149.05" cy="351.5" r="1.6" fill="#fff" stroke="#ff2020" stroke-width="0.9"/>
<circle cx="1156.4" cy="351.5" r="1.6" fill="#fff" stroke="#ff2020" stroke-width="0.9"/>
<path d="M539 230.5 l3.2 3.2 l-3.2 3.2 l-3.2 -3.2 z" fill="#0000ff"/>
<path d="M546.35 244.8 l3.2 3.2 l-3.2 3.2 l-3.2 -3.2 z" fill="#0000ff"/>
<path d="M553.7 218.5 l3.2 3.2 l-3.2 3.2 l-3.2 -3.2 z" fill="#0000ff"/>
<path d="M561.05 243.1 l3.2 3.2 l-3.2 3.2 l-3.2 -3.2 z" fill="#0000ff"/>
<path d="M568.4 210.1 l3.2 3.2 l-3.2 3.2 l-3.2 -3.2 z" fill="#0000ff"/>
<path d="M575.75 215.6 l3.2 3.2 l-3.2 3.2 l-3.2 -3.2 z" fill="#0000ff"/>
<path d="M583.1 199 l3.2 3.2 l-3.2 3.2 l-3.2 -3.2 z" fill="#0000ff"/>
<path d="M590.45 243.1 l3.2 3.2 l-3.2 3.2 l-3.2 -3.2 z" fill="#0000ff"/>
<path d="M597.8 251.5 l3.2 3.2 l-3.2 3.2 l-3.2 -3.2 z" fill="#0000ff"/>
<path d="M605.15 230 l2.5 2.5 l-2.5 2.5 l-2.5 -2.5 z" fill="#fff" stroke="#10a810" stroke-width="1.05"/>
<path d="M612.5 208.8 l2.5 2.5 l-2.5 2.5 l-2.5 -2.5 z" fill="#fff" stroke="#10a810" stroke-width="1.05"/>
<path d="M619.85 217.8 l2.5 2.5 l-2.5 2.5 l-2.5 -2.5 z" fill="#fff" stroke="#10a810" stroke-width="1.05"/>
<path d="M627.2 211.7 l2.5 2.5 l-2.5 2.5 l-2.5 -2.5 z" fill="#fff" stroke="#10a810" stroke-width="1.05"/>
<path d="M634.55 230 l2.5 2.5 l-2.5 2.5 l-2.5 -2.5 z" fill="#fff" stroke="#10a810" stroke-width="1.05"/>
<path d="M641.9 220 l2.5 2.5 l-2.5 2.5 l-2.5 -2.5 z" fill="#fff" stroke="#10a810" stroke-width="1.05"/>
<path d="M649.25 216.3 l2.5 2.5 l-2.5 2.5 l-2.5 -2.5 z" fill="#fff" stroke="#10a810" stroke-width="1.05"/>
<path d="M656.6 239.2 l2.5 2.5 l-2.5 2.5 l-2.5 -2.5 z" fill="#fff" stroke="#10a810" stroke-width="1.05"/>
<path d="M663.95 231.7 l2.5 2.5 l-2.5 2.5 l-2.5 -2.5 z" fill="#fff" stroke="#10a810" stroke-width="1.05"/>
<path d="M671.3 197 l2.5 2.5 l-2.5 2.5 l-2.5 -2.5 z" fill="#fff" stroke="#10a810" stroke-width="1.05"/>
<path d="M678.65 251.2 l2.5 2.5 l-2.5 2.5 l-2.5 -2.5 z" fill="#fff" stroke="#10a810" stroke-width="1.05"/>
<path d="M686 224.5 l2.5 2.5 l-2.5 2.5 l-2.5 -2.5 z" fill="#fff" stroke="#10a810" stroke-width="1.05"/>
<path d="M693.35 229.2 l2.5 2.5 l-2.5 2.5 l-2.5 -2.5 z" fill="#fff" stroke="#10a810" stroke-width="1.05"/>
<path d="M700.7 180.3 l2.5 2.5 l-2.5 2.5 l-2.5 -2.5 z" fill="#fff" stroke="#10a810" stroke-width="1.05"/>
<path d="M708.05 207.8 l2.5 2.5 l-2.5 2.5 l-2.5 -2.5 z" fill="#fff" stroke="#10a810" stroke-width="1.05"/>
<path d="M715.4 230 l2.5 2.5 l-2.5 2.5 l-2.5 -2.5 z" fill="#fff" stroke="#10a810" stroke-width="1.05"/>
<path d="M722.75 229.5 l2.5 2.5 l-2.5 2.5 l-2.5 -2.5 z" fill="#fff" stroke="#10a810" stroke-width="1.05"/>
<path d="M730.1 207.8 l2.5 2.5 l-2.5 2.5 l-2.5 -2.5 z" fill="#fff" stroke="#10a810" stroke-width="1.05"/>
<path d="M737.45 247.5 l2.5 2.5 l-2.5 2.5 l-2.5 -2.5 z" fill="#fff" stroke="#10a810" stroke-width="1.05"/>
<path d="M744.8 224.5 l2.5 2.5 l-2.5 2.5 l-2.5 -2.5 z" fill="#fff" stroke="#10a810" stroke-width="1.05"/>
<path d="M752.15 199.7 l2.5 2.5 l-2.5 2.5 l-2.5 -2.5 z" fill="#fff" stroke="#10a810" stroke-width="1.05"/>
<path d="M759.5 188.7 l2.5 2.5 l-2.5 2.5 l-2.5 -2.5 z" fill="#fff" stroke="#10a810" stroke-width="1.05"/>
<path d="M766.85 220.3 l2.5 2.5 l-2.5 2.5 l-2.5 -2.5 z" fill="#fff" stroke="#10a810" stroke-width="1.05"/>
<path d="M774.2 230.8 l2.5 2.5 l-2.5 2.5 l-2.5 -2.5 z" fill="#fff" stroke="#10a810" stroke-width="1.05"/>
<path d="M781.55 219.2 l2.5 2.5 l-2.5 2.5 l-2.5 -2.5 z" fill="#fff" stroke="#10a810" stroke-width="1.05"/>
<path d="M788.9 253.8 l2.5 2.5 l-2.5 2.5 l-2.5 -2.5 z" fill="#fff" stroke="#10a810" stroke-width="1.05"/>
<path d="M796.25 260.3 l2.5 2.5 l-2.5 2.5 l-2.5 -2.5 z" fill="#fff" stroke="#10a810" stroke-width="1.05"/>
<path d="M803.6 220.8 l2.5 2.5 l-2.5 2.5 l-2.5 -2.5 z" fill="#fff" stroke="#10a810" stroke-width="1.05"/>
<path d="M810.95 270.5 l2.5 2.5 l-2.5 2.5 l-2.5 -2.5 z" fill="#fff" stroke="#10a810" stroke-width="1.05"/>
<path d="M818.3 320.9 l2.5 2.5 l-2.5 2.5 l-2.5 -2.5 z" fill="#fff" stroke="#10a810" stroke-width="1.05"/>
<path d="M819.15 342.5 h13 M825.65 336.5 v12" stroke="#ff40d0" stroke-width="1" fill="none"/>
<path d="M825.65 339.7 l2.8 2.8 l-2.8 2.8 l-2.8 -2.8 z" fill="#ff0000"/>
<path d="M833 334.3 l3 3 l-3 3 l-3 -3 z" fill="#10a840"/>
<path d="M840.35 325.1 l3.2 3.2 l-3.2 3.2 l-3.2 -3.2 z" fill="#0000ff"/>
<path d="M847.7 217.1 l3.2 3.2 l-3.2 3.2 l-3.2 -3.2 z" fill="#0000ff"/>
<path d="M855.05 224 l3.2 3.2 l-3.2 3.2 l-3.2 -3.2 z" fill="#0000ff"/>
<path d="M862.4 221 l3.2 3.2 l-3.2 3.2 l-3.2 -3.2 z" fill="#0000ff"/>
<path d="M869.75 239.5 l3.2 3.2 l-3.2 3.2 l-3.2 -3.2 z" fill="#0000ff"/>
<path d="M877.1 245.8 l3.2 3.2 l-3.2 3.2 l-3.2 -3.2 z" fill="#0000ff"/>
<path d="M884.45 236.6 l3.2 3.2 l-3.2 3.2 l-3.2 -3.2 z" fill="#0000ff"/>
<path d="M891.8 217.1 l3.2 3.2 l-3.2 3.2 l-3.2 -3.2 z" fill="#0000ff"/>
<path d="M899.15 215.6 l3.2 3.2 l-3.2 3.2 l-3.2 -3.2 z" fill="#0000ff"/>
<path d="M906.5 247 l3.2 3.2 l-3.2 3.2 l-3.2 -3.2 z" fill="#0000ff"/>
<path d="M913.85 258.6 l3.2 3.2 l-3.2 3.2 l-3.2 -3.2 z" fill="#0000ff"/>
<path d="M921.2 238 l3.2 3.2 l-3.2 3.2 l-3.2 -3.2 z" fill="#0000ff"/>
<path d="M928.55 224 l3.2 3.2 l-3.2 3.2 l-3.2 -3.2 z" fill="#0000ff"/>
<path d="M935.9 244.6 l3.2 3.2 l-3.2 3.2 l-3.2 -3.2 z" fill="#0000ff"/>
<path d="M943.25 253.1 l3.2 3.2 l-3.2 3.2 l-3.2 -3.2 z" fill="#0000ff"/>
<path d="M950.6 231 l3.2 3.2 l-3.2 3.2 l-3.2 -3.2 z" fill="#0000ff"/>
<path d="M957.95 234.8 l3.2 3.2 l-3.2 3.2 l-3.2 -3.2 z" fill="#0000ff"/>
<path d="M965.3 234.8 l3.2 3.2 l-3.2 3.2 l-3.2 -3.2 z" fill="#0000ff"/>
<path d="M972.65 222.8 l3.2 3.2 l-3.2 3.2 l-3.2 -3.2 z" fill="#0000ff"/>
<path d="M980 242.5 l3.2 3.2 l-3.2 3.2 l-3.2 -3.2 z" fill="#0000ff"/>
<path d="M987.35 229.5 l3.2 3.2 l-3.2 3.2 l-3.2 -3.2 z" fill="#0000ff"/>
<path d="M994.7 244 l3.2 3.2 l-3.2 3.2 l-3.2 -3.2 z" fill="#0000ff"/>
<path d="M1002.05 211.8 l3.2 3.2 l-3.2 3.2 l-3.2 -3.2 z" fill="#0000ff"/>
<path d="M1009.4 239.5 l3.2 3.2 l-3.2 3.2 l-3.2 -3.2 z" fill="#0000ff"/>
<path d="M1016.75 237.8 l3.2 3.2 l-3.2 3.2 l-3.2 -3.2 z" fill="#0000ff"/>
<path d="M1024.1 242.3 l3.2 3.2 l-3.2 3.2 l-3.2 -3.2 z" fill="#0000ff"/>
<path d="M1031.45 211 l3.2 3.2 l-3.2 3.2 l-3.2 -3.2 z" fill="#0000ff"/>
<path d="M1038.8 237.8 l3.2 3.2 l-3.2 3.2 l-3.2 -3.2 z" fill="#0000ff"/>
<path d="M1046.15 238.6 l3.2 3.2 l-3.2 3.2 l-3.2 -3.2 z" fill="#0000ff"/>
<path d="M1053.5 219.5 l3.2 3.2 l-3.2 3.2 l-3.2 -3.2 z" fill="#0000ff"/>
<path d="M1060.85 209.1 l3.2 3.2 l-3.2 3.2 l-3.2 -3.2 z" fill="#0000ff"/>
<path d="M1068.2 204.6 l3.2 3.2 l-3.2 3.2 l-3.2 -3.2 z" fill="#0000ff"/>
<path d="M1075.55 209.1 l3.2 3.2 l-3.2 3.2 l-3.2 -3.2 z" fill="#0000ff"/>
<path d="M1082.9 244 l3.2 3.2 l-3.2 3.2 l-3.2 -3.2 z" fill="#0000ff"/>
<path d="M1090.25 240.3 l3.2 3.2 l-3.2 3.2 l-3.2 -3.2 z" fill="#0000ff"/>
<path d="M1097.6 208.1 l3.2 3.2 l-3.2 3.2 l-3.2 -3.2 z" fill="#0000ff"/>
<path d="M1104.95 224.8 l3.2 3.2 l-3.2 3.2 l-3.2 -3.2 z" fill="#0000ff"/>
<path d="M1112.3 234.8 l3.2 3.2 l-3.2 3.2 l-3.2 -3.2 z" fill="#0000ff"/>
<path d="M1119.65 243.1 l3.2 3.2 l-3.2 3.2 l-3.2 -3.2 z" fill="#0000ff"/>
<path d="M1127 217.1 l3.2 3.2 l-3.2 3.2 l-3.2 -3.2 z" fill="#0000ff"/>
<path d="M1134.35 235.5 l3.2 3.2 l-3.2 3.2 l-3.2 -3.2 z" fill="#0000ff"/>
<path d="M1141.7 229.5 l3.2 3.2 l-3.2 3.2 l-3.2 -3.2 z" fill="#0000ff"/>
<path d="M1149.05 232 l3.2 3.2 l-3.2 3.2 l-3.2 -3.2 z" fill="#0000ff"/>
<path d="M1156.4 200.8 l3.2 3.2 l-3.2 3.2 l-3.2 -3.2 z" fill="#0000ff"/>
<circle cx="810.95" cy="273" r="1.6" fill="#fff" stroke="#ff2020" stroke-width="0.9"/>
<line x1="801" y1="290.5" x2="822" y2="290.5" stroke="#ffe020" stroke-width="1.2"/>
<path d="M811.7 278 V302 M809.3 278 h5 M809.3 302 h5 M809.5 289 h4.5 v3 h-4.5z" fill="none" stroke="#202090" stroke-width="1"/>
<rect x="841.5" y="73" width="316.5" height="13" fill="#fff" />
<rect x="841.5" y="85" width="301.8" height="11.2" fill="#fff" />
<rect x="841.5" y="96" width="212.2" height="11.2" fill="#fff" />
<rect x="841.5" y="112.4" width="263.4" height="11.2" fill="#fff" />
<rect x="841.5" y="123.4" width="263.4" height="11.2" fill="#fff" />
<rect x="841.5" y="134.4" width="269.8" height="11.2" fill="#fff" />
<rect x="841.5" y="145.4" width="263.4" height="11.2" fill="#fff" />
<rect x="841.5" y="156.4" width="263.4" height="11.2" fill="#fff" />
<rect x="841.5" y="167.4" width="263.4" height="11.2" fill="#fff" />
<rect x="841.5" y="178.8" width="263.4" height="11.2" fill="#fff" />
<rect x="841.5" y="189.7" width="45.8" height="11.2" fill="#fff" />
<text x="841.5" y="83.7" font-size="11.5" font-weight="bold" textLength="174.5" lengthAdjust="spacingAndGlyphs">Event Time : 14h36m58.006s</text>
<text x="1026" y="83.7" font-size="11.5" font-weight="bold" textLength="65" lengthAdjust="spacingAndGlyphs">+/- 0.124s</text>
<text x="1101" y="83.7" font-size="11.5" font-weight="bold" textLength="55.6" lengthAdjust="spacingAndGlyphs">S/N=4.11</text>
<text x="841.5" y="94.8" font-size="13" class="m" textLength="300.8" lengthAdjust="spacingAndGlyphs" xml:space="preserve">Mag Drop (predicted):  1.5   Mag. [for fitting]</text>
<text x="841.5" y="105.8" font-size="13" class="m" textLength="211.2" lengthAdjust="spacingAndGlyphs" xml:space="preserve">Mag Drop (measured ):  1.22  Mag.</text>
<text x="841.5" y="122.2" font-size="13" class="m" textLength="262.4" lengthAdjust="spacingAndGlyphs" xml:space="preserve">-Statistical analysis of Light Intensity-</text>
<text x="841.5" y="133.2" font-size="13" class="m" textLength="256" lengthAdjust="spacingAndGlyphs" xml:space="preserve">Light intensity    Average   Stdv      n</text>
<text x="841.5" y="144.2" font-size="13" class="m" textLength="262.4" lengthAdjust="spacingAndGlyphs" xml:space="preserve">  Combined  :       392.5     64.6     30</text>
<text x="841.5" y="155.2" font-size="13" class="m" textLength="262.4" lengthAdjust="spacingAndGlyphs" xml:space="preserve">  Background:       127.1      9.8      2</text>
<text x="841.5" y="166.2" font-size="13" class="m" textLength="262.4" lengthAdjust="spacingAndGlyphs" xml:space="preserve">Noise Level (N/S)  Upper    Lower   (S/N)</text>
<text x="841.5" y="177.2" font-size="13" class="m" textLength="217.6" lengthAdjust="spacingAndGlyphs" xml:space="preserve">  First event:     0.2372   0.0000</text>
<text x="841.5" y="188.6" font-size="13" class="m" textLength="262.4" lengthAdjust="spacingAndGlyphs" xml:space="preserve">  Total event:     0.2434   0.0368   4.11</text>
<text x="841.5" y="199.5" font-size="13" class="m" textLength="44.8" lengthAdjust="spacingAndGlyphs" xml:space="preserve">1.00202</text>
<text x="500.3" y="51.6" font-size="11.5" font-weight="bold" class="g" textLength="500.7" lengthAdjust="spacingAndGlyphs">2026 Jan 6; (1022) Olympiada occults UCAC4 550-039688 Observed by Masanori Mizutani</text>
<text x="1004" y="51.6" font-size="12" class="g" textLength="130.7" lengthAdjust="spacingAndGlyphs">/ PSF-Frame Photometry /</text>
<text x="974.7" y="63" font-size="12" class="g" textLength="184.3" lengthAdjust="spacingAndGlyphs">Dist.=310714777km Veloc.=16211m/sec</text>
<text x="500.6" y="422.3" font-size="12" class="g" textLength="618.1" lengthAdjust="spacingAndGlyphs" xml:space="preserve">Exp=338msec / Frm No.259.0 / Frm Mid= 14h36m58.6335s,  End= 58.8025s / Event=Frm mid -0.6277s +/-0.080s / CctAngle=0.0deg</text>
<text x="499.7" y="583.3" font-size="12" class="g" textLength="60.3" lengthAdjust="spacingAndGlyphs">S/N vs. Error</text>
<g clip-path="url(#p2)">
<line x1="812" y1="434" x2="812" y2="569" stroke="#ffff00" stroke-width="1.1"/>
<line x1="500.8" y1="501.6" x2="1163.3" y2="501.6" stroke="#000" stroke-width="1.1"/>
<polyline points="539,505.6 546.35,519.9 553.7,493.6 561.05,518.2 568.4,485.2 575.75,490.7 583.1,474.1 590.45,518.2 597.8,526.6 605.15,504.4 612.5,483.2 619.85,492.2 627.2,486.1 634.55,504.4 641.9,494.4 649.25,490.7 656.6,513.6 663.95,506.1 671.3,471.4 678.65,525.6 686,498.9 693.35,503.6 700.7,454.7 708.05,482.2 715.4,504.4 722.75,503.9 730.1,482.2 737.45,521.9 744.8,498.9 752.15,474.1 759.5,463.1 766.85,494.7 774.2,505.2 781.55,493.6 788.9,528.2 796.25,534.7 803.6,495.2 810.95,501.6 818.3,473.5 825.65,492.6 833,487.4 840.35,478.4 847.7,370.4" fill="none" stroke="#9a9aff" stroke-width="1"/>
<path d="M539 502.6 l3 3 l-3 3 l-3 -3 z" fill="#0000ff"/>
<path d="M546.35 516.9 l3 3 l-3 3 l-3 -3 z" fill="#0000ff"/>
<path d="M553.7 490.6 l3 3 l-3 3 l-3 -3 z" fill="#0000ff"/>
<path d="M561.05 515.2 l3 3 l-3 3 l-3 -3 z" fill="#0000ff"/>
<path d="M568.4 482.2 l3 3 l-3 3 l-3 -3 z" fill="#0000ff"/>
<path d="M575.75 487.7 l3 3 l-3 3 l-3 -3 z" fill="#0000ff"/>
<path d="M583.1 471.1 l3 3 l-3 3 l-3 -3 z" fill="#0000ff"/>
<path d="M590.45 515.2 l3 3 l-3 3 l-3 -3 z" fill="#0000ff"/>
<path d="M597.8 523.6 l3 3 l-3 3 l-3 -3 z" fill="#0000ff"/>
<path d="M605.15 501.4 l3 3 l-3 3 l-3 -3 z" fill="#0000ff"/>
<path d="M612.5 480.2 l3 3 l-3 3 l-3 -3 z" fill="#0000ff"/>
<path d="M619.85 489.2 l3 3 l-3 3 l-3 -3 z" fill="#0000ff"/>
<path d="M627.2 483.1 l3 3 l-3 3 l-3 -3 z" fill="#0000ff"/>
<path d="M634.55 501.4 l3 3 l-3 3 l-3 -3 z" fill="#0000ff"/>
<path d="M641.9 491.4 l3 3 l-3 3 l-3 -3 z" fill="#0000ff"/>
<path d="M649.25 487.7 l3 3 l-3 3 l-3 -3 z" fill="#0000ff"/>
<path d="M656.6 510.6 l3 3 l-3 3 l-3 -3 z" fill="#0000ff"/>
<path d="M663.95 503.1 l3 3 l-3 3 l-3 -3 z" fill="#0000ff"/>
<path d="M671.3 468.4 l3 3 l-3 3 l-3 -3 z" fill="#0000ff"/>
<path d="M678.65 522.6 l3 3 l-3 3 l-3 -3 z" fill="#0000ff"/>
<path d="M686 495.9 l3 3 l-3 3 l-3 -3 z" fill="#0000ff"/>
<path d="M693.35 500.6 l3 3 l-3 3 l-3 -3 z" fill="#0000ff"/>
<path d="M700.7 451.7 l3 3 l-3 3 l-3 -3 z" fill="#0000ff"/>
<path d="M708.05 479.2 l3 3 l-3 3 l-3 -3 z" fill="#0000ff"/>
<path d="M715.4 501.4 l3 3 l-3 3 l-3 -3 z" fill="#0000ff"/>
<path d="M722.75 500.9 l3 3 l-3 3 l-3 -3 z" fill="#0000ff"/>
<path d="M730.1 479.2 l3 3 l-3 3 l-3 -3 z" fill="#0000ff"/>
<path d="M737.45 518.9 l3 3 l-3 3 l-3 -3 z" fill="#0000ff"/>
<path d="M744.8 495.9 l3 3 l-3 3 l-3 -3 z" fill="#0000ff"/>
<path d="M752.15 471.1 l3 3 l-3 3 l-3 -3 z" fill="#0000ff"/>
<path d="M759.5 460.1 l3 3 l-3 3 l-3 -3 z" fill="#0000ff"/>
<path d="M766.85 491.7 l3 3 l-3 3 l-3 -3 z" fill="#0000ff"/>
<path d="M774.2 502.2 l3 3 l-3 3 l-3 -3 z" fill="#0000ff"/>
<path d="M781.55 490.6 l3 3 l-3 3 l-3 -3 z" fill="#0000ff"/>
<path d="M788.9 525.2 l3 3 l-3 3 l-3 -3 z" fill="#0000ff"/>
<path d="M796.25 531.7 l3 3 l-3 3 l-3 -3 z" fill="#0000ff"/>
<path d="M803.6 492.2 l3 3 l-3 3 l-3 -3 z" fill="#0000ff"/>
<path d="M810.95 498.6 l3 3 l-3 3 l-3 -3 z" fill="#0000ff"/>
<path d="M818.3 470.5 l3 3 l-3 3 l-3 -3 z" fill="#0000ff"/>
<path d="M825.65 489.6 l3 3 l-3 3 l-3 -3 z" fill="#0000ff"/>
<path d="M833 484.4 l3 3 l-3 3 l-3 -3 z" fill="#0000ff"/>
<path d="M840.35 475.4 l3 3 l-3 3 l-3 -3 z" fill="#0000ff"/>
</g>
</svg>
<div class="" style="left:487px;top:577.5px;width:689px;height:86.5px;background:#f0f0f0"></div>
<div class="tb" style="left:493px;top:612.5px;width:44px;height:17.2px;"></div>
<div class="tb" style="left:544.7px;top:612.5px;width:50.3px;height:17.2px;"></div>
<div class="sbt" style="left:602.5px;top:585px;width:146.5px;height:16px;"></div>
<div class="btn1" style="left:602.5px;top:585px;width:15.5px;height:16px;"></div>
<div class="btn1" style="left:734px;top:585px;width:15px;height:16px;"></div>
<div class="btn1" style="left:646px;top:585px;width:15px;height:16px;"></div>
<div class="btn" style="left:603px;top:608px;width:38px;height:22px;"></div>
<div class="btn" style="left:644px;top:608px;width:29.6px;height:22px;"></div>
<div class="btn" style="left:677px;top:608px;width:31.3px;height:22px;"></div>
<div class="btn" style="left:712px;top:608px;width:37px;height:22px;"></div>
<div class="tb" style="left:791px;top:583.7px;width:19px;height:16.3px;"></div>
<div class="btn" style="left:813px;top:583px;width:15px;height:10.2px;"></div>
<div class="btn" style="left:813px;top:593.2px;width:15px;height:10px;"></div>
<div class="tb" style="left:791px;top:613px;width:19px;height:16.3px;"></div>
<div class="btn" style="left:813px;top:612.5px;width:15px;height:10.3px;"></div>
<div class="btn" style="left:813px;top:622.8px;width:15px;height:10.2px;"></div>
<div class="btn" style="left:653px;top:637.5px;width:66.7px;height:21.8px;"></div>
<div class="btn" style="left:724.7px;top:637.5px;width:108.3px;height:21.8px;"></div>
<div class="gb" style="left:833.7px;top:585px;width:44.3px;height:73px;"></div>
<div class="sbt" style="left:838px;top:601px;width:14.7px;height:52px;"></div>
<div class="btn1" style="left:838px;top:601px;width:14.7px;height:15px;"></div>
<div class="btn1" style="left:838px;top:618px;width:14.7px;height:15px;"></div>
<div class="btn1" style="left:838px;top:638px;width:14.7px;height:15px;"></div>
<div class="sbt" style="left:858px;top:601px;width:15.7px;height:52px;"></div>
<div class="btn1" style="left:858px;top:601px;width:15.7px;height:15px;"></div>
<div class="btn1" style="left:858px;top:621.7px;width:15.7px;height:14.6px;"></div>
<div class="btn1" style="left:858px;top:638px;width:15.7px;height:15px;"></div>
<div class="gb" style="left:881px;top:585px;width:55px;height:48px;"></div>
<div class="btn" style="left:888px;top:616px;width:42px;height:13.3px;"></div>
<div class="gb" style="left:939.7px;top:585px;width:50.3px;height:48px;"></div>
<div class="btn" style="left:881.7px;top:638px;width:58.3px;height:23.7px;"></div>
<div class="btn" style="left:996.7px;top:583px;width:130.8px;height:14.7px;"></div>
<div class="btn" style="left:996.7px;top:601px;width:93.3px;height:15.2px;"></div>
<div class="btn" style="left:1094px;top:601px;width:33.5px;height:15.2px;"></div>
<div class="btn" style="left:1140px;top:582.5px;width:32.5px;height:21.7px;"></div>
<div class="gb" style="left:1086.7px;top:630px;width:87px;height:32px;"></div>
<div class="tb" style="left:1092px;top:639.5px;width:17.3px;height:15.5px;background:#f0f0f0"></div>
<div class="btn" style="left:1112.5px;top:639.5px;width:17.5px;height:15.5px;"></div>
<div class="btn" style="left:1132.5px;top:639.5px;width:17.5px;height:15.5px;"></div>
<div class="btn" style="left:1153px;top:639.5px;width:15.3px;height:15.5px;"></div>
<div class="btn" style="left:985.8px;top:637.5px;width:95.9px;height:24.5px;"></div>
<svg class="ov " width="1280" height="720" viewBox="0 0 1280 720">
<g transform="translate(488 16.8)"><path d="M0.5 1 L3.5 0.3 L4.5 1.2 L8 0.3 L12 0 L15 1 L15.3 15.5 L13 14.2 L9 14.6 L5 15.2 L2 14.6 L0.5 13 Z" fill="#0a12d8"/><path d="M1 1.2 h3 v2 h-3z M8 1 h5 v2.4 h-5z M2 12.6 h3 v1.6 h-3z M9 12.4 h5 v1.6 h-5z" fill="#0a0a8a"/><path d="M4.6 0.2 L5.9 6.5 L15.4 7.8 L15.4 9.3 L5.9 10.3 L4.8 15.3 L3.5 10.3 L0.2 9.1 L0.2 8.1 L3.5 6.7 Z" fill="#f8f11a"/><circle cx="4.7" cy="8.5" r="2.3" fill="#ffff22"/></g>
<text x="507.8" y="28.6" font-size="12" fill="#9b9b9b" textLength="28.2" lengthAdjust="spacingAndGlyphs">Graph</text>
<path d="M1069 25.5 h9.5 M1110.5 20.5 h9 v9 h-9z M1153 20.5 l9 9 m0 -9 l-9 9" fill="none" stroke="#9a9a9a" stroke-width="1"/>
<text x="492.5" y="592.6" font-size="12" class="g" textLength="40.5" lengthAdjust="spacingAndGlyphs">Current-</text>
<text x="501" y="607.2" font-size="12" class="g" textLength="28" lengthAdjust="spacingAndGlyphs">Frame</text>
<text x="548" y="592.6" font-size="12" class="g" textLength="43.7" lengthAdjust="spacingAndGlyphs">Luminous</text>
<text x="548" y="607.2" font-size="12" class="g" textLength="40" lengthAdjust="spacingAndGlyphs">Intensity</text>
<text x="495.8" y="624.8" font-size="12" class="g" textLength="23.9" lengthAdjust="spacingAndGlyphs">259.0</text>
<text x="548" y="624.8" font-size="12" class="g" textLength="22.8" lengthAdjust="spacingAndGlyphs">120.2</text>
<polygon points="607.75,593 611.25,589.5 611.25,596.5" fill="#000"/>
<polygon points="743.75,593 740.25,589.5 740.25,596.5" fill="#000"/>
<text x="606.7" y="623" font-size="12" class="g" textLength="30.8" lengthAdjust="spacingAndGlyphs">-10Sec</text>
<text x="645.8" y="623" font-size="12" class="g" textLength="25.5" lengthAdjust="spacingAndGlyphs">-1Sec</text>
<text x="679" y="623" font-size="12" class="g" textLength="28.5" lengthAdjust="spacingAndGlyphs">+1Sec</text>
<text x="714" y="623" font-size="12" class="g" textLength="34" lengthAdjust="spacingAndGlyphs">+10Sec</text>
<text x="755" y="599.7" font-size="12" class="g" textLength="26" lengthAdjust="spacingAndGlyphs">Scale</text>
<text x="794" y="594.8" font-size="12" class="g" textLength="4.3" lengthAdjust="spacingAndGlyphs">4</text>
<polygon points="820,586.7 817.5,589.3 822.5,589.3" fill="#000"/>
<polygon points="820,599.5 817.5,596.9 822.5,596.9" fill="#000"/>
<text x="758" y="621.7" font-size="12" class="g" textLength="30.7" lengthAdjust="spacingAndGlyphs">Radius</text>
<text x="794" y="624.2" font-size="12" class="g" textLength="4.3" lengthAdjust="spacingAndGlyphs">3</text>
<polygon points="820,616.3 817.5,618.9 822.5,618.9" fill="#000"/>
<polygon points="820,629.3 817.5,626.7 822.5,626.7" fill="#000"/>
<rect x="493" y="639.3" width="11" height="11" fill="#ffffff" />
<rect x="493" y="639.3" width="10" height="10" fill="#a0a0a0" />
<rect x="494" y="640.3" width="9" height="9" fill="#e3e3e3" />
<rect x="494" y="640.3" width="8" height="8" fill="#696969" />
<rect x="495" y="641.3" width="7" height="7" fill="#ffffff" />
<path d="M495.5 644.3 l2 2 l4 -4.5" fill="none" stroke="#000" stroke-width="1.8"/>
<text x="508.7" y="648.2" font-size="12" class="g" textLength="134.3" lengthAdjust="spacingAndGlyphs">Show Image of Clicked point</text>
<rect x="493" y="653.6" width="11" height="11" fill="#ffffff" />
<rect x="493" y="653.6" width="10" height="10" fill="#a0a0a0" />
<rect x="494" y="654.6" width="9" height="9" fill="#e3e3e3" />
<rect x="494" y="654.6" width="8" height="8" fill="#696969" />
<rect x="495" y="655.6" width="7" height="7" fill="#ffffff" />
<text x="510" y="662.2" font-size="12" class="g" textLength="134" lengthAdjust="spacingAndGlyphs">Reproduce Aperture Position</text>
<text x="658.7" y="651.8" font-size="12" class="g" textLength="54.3" lengthAdjust="spacingAndGlyphs">Save Image</text>
<text x="735.8" y="651.8" font-size="12" class="g" textLength="86.2" lengthAdjust="spacingAndGlyphs">Copy to ClipBoard</text>
<rect x="838.5" y="579" width="34" height="11" fill="#f0f0f0" />
<text x="840" y="588.4" font-size="12" class="g" textLength="31" lengthAdjust="spacingAndGlyphs">Y Axis</text>
<text x="838.7" y="599.3" font-size="12" class="g" textLength="36.3" lengthAdjust="spacingAndGlyphs">Min Max</text>
<polygon points="845.35,606.7 841.85,610.3 848.85,610.3" fill="#000"/>
<polygon points="845.35,647.5 841.85,643.9 848.85,643.9" fill="#000"/>
<polygon points="865.85,606.7 862.35,610.3 869.35,610.3" fill="#000"/>
<polygon points="865.85,647.5 862.35,643.9 869.35,643.9" fill="#000"/>
<rect x="886.5" y="579" width="21.5" height="11" fill="#f0f0f0" />
<text x="888" y="588.4" font-size="12" class="g" textLength="18.7" lengthAdjust="spacingAndGlyphs">Line</text>
<rect x="888" y="591.3" width="10.5" height="10.5" fill="#ffffff" />
<rect x="888" y="591.3" width="9.5" height="9.5" fill="#a0a0a0" />
<rect x="889" y="592.3" width="8.5" height="8.5" fill="#e3e3e3" />
<rect x="889" y="592.3" width="7.5" height="7.5" fill="#696969" />
<rect x="890" y="593.3" width="6.5" height="6.5" fill="#ffffff" />
<path d="M890.5 596.3 l2 2 l4 -4.5" fill="none" stroke="#000" stroke-width="1.8"/>
<text x="905" y="600.4" font-size="12" class="g" textLength="20" lengthAdjust="spacingAndGlyphs">Axis</text>
<rect x="888" y="604.7" width="10.5" height="10.5" fill="#ffffff" />
<rect x="888" y="604.7" width="9.5" height="9.5" fill="#a0a0a0" />
<rect x="889" y="605.7" width="8.5" height="8.5" fill="#e3e3e3" />
<rect x="889" y="605.7" width="7.5" height="7.5" fill="#696969" />
<rect x="890" y="606.7" width="6.5" height="6.5" fill="#ffffff" />
<path d="M890.5 609.7 l2 2 l4 -4.5" fill="none" stroke="#000" stroke-width="1.8"/>
<text x="905" y="613.8" font-size="12" class="g" textLength="21" lengthAdjust="spacingAndGlyphs">Data</text>
<text x="893.7" y="625.9" font-size="12" class="g" textLength="29.6" lengthAdjust="spacingAndGlyphs">Hilight</text>
<rect x="946" y="579" width="28" height="11" fill="#f0f0f0" />
<text x="947.5" y="588.7" font-size="12" class="g" textLength="25" lengthAdjust="spacingAndGlyphs">Width</text>
<circle cx="952.5" cy="601" r="4.7" fill="#fff" stroke="#8a8a8a" stroke-width="1.2"/>
<path d="M949.18 604.32 A4.7 4.7 0 0 1 955.82 597.68" fill="none" stroke="#5a5a5a" stroke-width="1.2"/>
<path d="M955.82 597.68 A4.7 4.7 0 0 1 949.18 604.32" fill="none" stroke="#e8e8e8" stroke-width="1.2"/>
<circle cx="952.5" cy="601" r="1.9" fill="#000"/>
<circle cx="952.5" cy="620" r="4.7" fill="#fff" stroke="#8a8a8a" stroke-width="1.2"/>
<path d="M949.18 623.32 A4.7 4.7 0 0 1 955.82 616.68" fill="none" stroke="#5a5a5a" stroke-width="1.2"/>
<path d="M955.82 616.68 A4.7 4.7 0 0 1 949.18 623.32" fill="none" stroke="#e8e8e8" stroke-width="1.2"/>
<text x="963.7" y="604.8" font-size="12" class="g" textLength="17.3" lengthAdjust="spacingAndGlyphs">Part</text>
<text x="963.7" y="624.3" font-size="12" class="g" textLength="24.3" lengthAdjust="spacingAndGlyphs">Entire</text>
<text x="884.7" y="652.6" font-size="12" class="g" textLength="50.3" lengthAdjust="spacingAndGlyphs">[3D] Image</text>
<text x="1002.5" y="592.6" font-size="12" class="g" textLength="117.5" lengthAdjust="spacingAndGlyphs">Correction for absorption</text>
<text x="1005.8" y="611.8" font-size="12" class="g" textLength="76.7" lengthAdjust="spacingAndGlyphs">Noise Reduction</text>
<text x="1096.7" y="611.8" font-size="12" class="g" textLength="27" lengthAdjust="spacingAndGlyphs">Reset</text>
<text x="1143" y="596.8" font-size="12" class="g" textLength="25" lengthAdjust="spacingAndGlyphs">close</text>
<rect x="995" y="619.6" width="11" height="11" fill="#ffffff" />
<rect x="995" y="619.6" width="10" height="10" fill="#a0a0a0" />
<rect x="996" y="620.6" width="9" height="9" fill="#e3e3e3" />
<rect x="996" y="620.6" width="8" height="8" fill="#696969" />
<rect x="997" y="621.6" width="7" height="7" fill="#ffffff" />
<path d="M997.5 624.6 l2 2 l4 -4.5" fill="none" stroke="#000" stroke-width="1.8"/>
<text x="1011.7" y="629" font-size="12" class="g" textLength="47.3" lengthAdjust="spacingAndGlyphs">Information</text>
<rect x="1133" y="617" width="10.5" height="10.5" fill="#ffffff" />
<rect x="1133" y="617" width="9.5" height="9.5" fill="#a0a0a0" />
<rect x="1134" y="618" width="8.5" height="8.5" fill="#e3e3e3" />
<rect x="1134" y="618" width="7.5" height="7.5" fill="#696969" />
<rect x="1135" y="619" width="6.5" height="6.5" fill="#ffffff" />
<path d="M1135.5 622 l2 2 l4 -4.5" fill="none" stroke="#000" stroke-width="1.8"/>
<text x="1148.7" y="625.9" font-size="12" class="g" textLength="10.3" lengthAdjust="spacingAndGlyphs">ID</text>
<rect x="1091.5" y="624" width="34" height="12" fill="#f0f0f0" />
<text x="1093" y="633.4" font-size="12" class="g" textLength="30.7" lengthAdjust="spacingAndGlyphs">Object</text>
<text x="1098" y="650.2" font-size="12" fill="#a8a8a8" class="g" textLength="6.7" lengthAdjust="spacingAndGlyphs">A</text>
<text x="1118.7" y="650.2" font-size="12" class="g" textLength="5.6" lengthAdjust="spacingAndGlyphs">B</text>
<text x="1137.8" y="650.2" font-size="12" class="g" textLength="7.2" lengthAdjust="spacingAndGlyphs">C</text>
<text x="1157.8" y="650.2" font-size="12" class="g" textLength="5.2" lengthAdjust="spacingAndGlyphs">L</text>
<text x="996.7" y="653.8" font-size="13.5" font-weight="bold" textLength="73.3" lengthAdjust="spacingAndGlyphs">Make Report</text>
</svg>
</div></div>
</body></html>
